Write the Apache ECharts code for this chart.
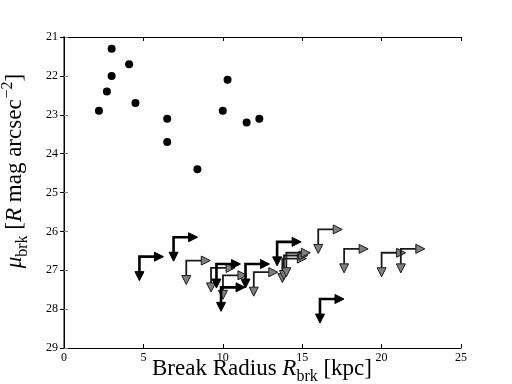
<!DOCTYPE html>
<html>
<head>
<meta charset="utf-8">
<script src="https://cdn.jsdelivr.net/npm/echarts@6/dist/echarts.min.js"></script>
<style>
  html, body { margin: 0; padding: 0; background: #fff; }
  #chart { width: 512px; height: 384px; }
</style>
</head>
<body>
<div id="chart"></div>
<script>
// tick values
var xTicks = [0, 5, 10, 15, 20, 25];
var yTicks = [21, 22, 23, 24, 25, 26, 27, 28, 29];

// measured breaks [R_brk kpc, mu_brk]
var breaks = [
  [3.0, 21.3], [4.1, 21.7], [3.0, 22.0], [2.7, 22.4], [4.5, 22.7],
  [2.2, 22.9], [6.5, 23.1], [6.5, 23.7], [8.4, 24.4], [10.0, 22.9],
  [10.3, 22.1], [11.5, 23.2], [12.3, 23.1]
];

// lower limits (arrows), black and gray sets
var limitsBlack = [
  [4.75, 26.65], [6.9, 26.15], [9.6, 26.84], [9.89, 27.44],
  [11.43, 26.84], [13.42, 26.27], [16.12, 27.74]
];
var limitsGray = [
  [7.7, 26.75], [9.26, 26.94], [10.01, 27.13], [11.95, 27.05],
  [13.75, 26.7], [13.85, 26.62], [14.0, 26.55], [16.01, 25.95],
  [17.64, 26.45], [20.0, 26.55], [21.21, 26.45]
];

var serif = "'Liberation Serif', 'DejaVu Serif', serif";

// L-shaped arrow: down and right from the data point
function arrowRenderer(stroke, fill, width) {
  return function (params, api) {
    var p = api.coord([api.value(0), api.value(1)]);
    var x = p[0], y = p[1];
    var len = 24, head = 9, half = 4.5;
    return {
      type: "group",
      children: [
        {
          type: "polyline",
          shape: { points: [[x, y + len - head], [x, y], [x + len - head, y]] },
          style: { stroke: stroke, lineWidth: width, fill: null }
        },
        {
          type: "polygon",
          shape: { points: [[x - half, y + len - head], [x + half, y + len - head], [x, y + len]] },
          style: { fill: fill, stroke: stroke, lineWidth: 1 }
        },
        {
          type: "polygon",
          shape: { points: [[x + len - head, y - half], [x + len - head, y + half], [x + len, y]] },
          style: { fill: fill, stroke: stroke, lineWidth: 1 }
        }
      ]
    };
  };
}

var chart = echarts.init(document.getElementById("chart"));

var tickStyle = { show: true, inside: true, length: 4, lineStyle: { color: "#000", width: 1 } };
var labelStyle = { fontFamily: serif, fontSize: 12, color: "#000" };

var richStyles = {
  n: { fontFamily: serif, fontSize: 23, color: "#000", verticalAlign: "top", padding: [4, 0, 0, 0] },
  it: { fontFamily: serif, fontSize: 23, fontStyle: "italic", color: "#000", verticalAlign: "top", padding: [4, 0, 0, 0] },
  sub: { fontFamily: serif, fontSize: 16, color: "#000", verticalAlign: "top", padding: [15, 0, 0, 0] },
  sup: { fontFamily: serif, fontSize: 16, color: "#000", verticalAlign: "top", padding: [0, 0, 0, 1] }
};

chart.setOption({
  animation: false,
  backgroundColor: "#fff",
  grid: { left: 64, right: 51, top: 37, bottom: 36 },
  xAxis: [
    {
      type: "value", position: "bottom",
      min: xTicks[0], max: xTicks[xTicks.length - 1], interval: 5,
      axisLine: { lineStyle: { color: "#000", width: 1 } },
      axisTick: tickStyle,
      axisLabel: Object.assign({ margin: 4 }, labelStyle),
      splitLine: { show: false }
    },
    {
      type: "value", position: "top",
      min: xTicks[0], max: xTicks[xTicks.length - 1], interval: 5,
      axisLine: { lineStyle: { color: "#000", width: 1 } },
      axisTick: tickStyle,
      axisLabel: { show: false },
      splitLine: { show: false }
    }
  ],
  yAxis: [
    {
      type: "value", position: "left", inverse: true,
      min: yTicks[0], max: yTicks[yTicks.length - 1], interval: 1,
      axisLine: { lineStyle: { color: "#808080", width: 2 } },
      axisTick: { show: true, inside: true, length: 4, lineStyle: { color: "#808080", width: 1 } },
      axisLabel: Object.assign({ margin: 6 }, labelStyle),
      splitLine: { show: false }
    },
    {
      type: "value", position: "right", inverse: true,
      min: yTicks[0], max: yTicks[yTicks.length - 1], interval: 1,
      axisLine: { lineStyle: { color: "#000", width: 1 } },
      axisTick: tickStyle,
      axisLabel: { show: false },
      splitLine: { show: false }
    }
  ],
  graphic: [
    {
      type: "text", x: 262, y: 369,
      style: {
        text: "{n|Break Radius }{it|R}{sub|brk}{n| [kpc]}",
        rich: richStyles, align: "center", verticalAlign: "middle"
      }
    },
    {
      type: "text", x: 15, y: 171, rotation: Math.PI / 2,
      style: {
        text: "{it|μ}{sub|brk}{n| [}{it|R}{n| mag arcsec}{sup|−2}{n|]}",
        rich: richStyles, align: "center", verticalAlign: "middle"
      }
    }
  ],
  series: [
    {
      type: "scatter", data: breaks, symbolSize: 8,
      itemStyle: { color: "#000", opacity: 1 }, z: 3
    },
    {
      type: "custom", data: limitsGray, renderItem: arrowRenderer("#1a1a1a", "#808080", 1.8), z: 2
    },
    {
      type: "custom", data: limitsBlack, renderItem: arrowRenderer("#000", "#000", 2.6), z: 2
    }
  ]
});
</script>
</body>
</html>
